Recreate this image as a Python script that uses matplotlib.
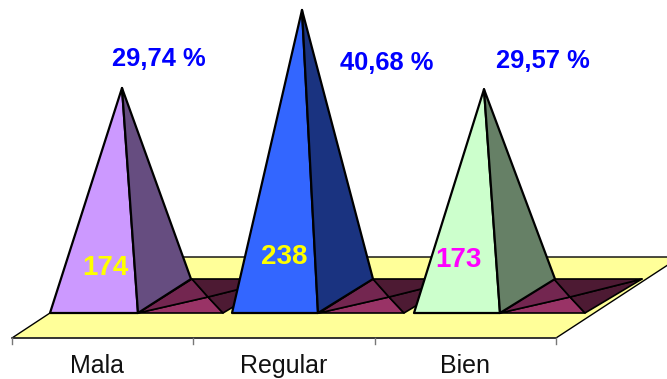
import matplotlib
matplotlib.use('Agg')
import matplotlib.pyplot as plt
from matplotlib.patches import Polygon

plt.rcParams['font.family'] = ['Liberation Sans', 'DejaVu Sans']

# data
categories = ['Mala', 'Regular', 'Bien']
counts = [174, 238, 173]
percents = ['29,74 %', '40,68 %', '29,57 %']

left_colors = ['#cc99ff', '#3366ff', '#ccffcc']
right_colors = ['#664d80', '#1a3380', '#668066']
count_colors = ['#ffff00', '#ffff00', '#ff00ff']

W, H = 667, 379
fig = plt.figure(figsize=(W / 100, H / 100), dpi=100)
ax = fig.add_axes([0, 0, 1, 1])
ax.set_xlim(0, W)
ax.set_ylim(H, 0)  # pixel coords, y goes down
ax.axis('off')

base_y = 313
back_y = 279
px_per_unit = 1.219
height_offset = 12.9  # value axis doesn't start right at the floor
step = 182
base_w = 86


def poly(pts, face, lw=1.0, z=1):
    ax.add_patch(Polygon(pts, closed=True, facecolor=face, edgecolor='black',
                         linewidth=lw, joinstyle='round', zorder=z))


# floor
poly([(12, 338), (556, 338), (680, 257), (135, 257)], '#ffff99', lw=1.0, z=1)

# axis line and ticks
ax.plot([12, 556], [338, 338], color='#333333', lw=1.1, zorder=2)
for i in range(4):
    xt = 12 + i * 181.3
    ax.plot([xt, xt], [338, 344], color='#777777', lw=1.0, zorder=2)

label_x = [97.5, 284, 465]
for i, name in enumerate(categories):
    ax.text(label_x[i], 373, name, ha='center', va='baseline',
            fontsize=18, color='#111111', zorder=6)

# maroon shadows on the floor
for i in range(3):
    x0 = 138 + i * 181
    a, b, c, d = (x0, base_y), (x0 + 85, base_y), (x0 + 142, back_y), (x0 + 54, back_y)
    m = (x0 + 70, 297)
    poly([a, b, m], '#993366', lw=1.2, z=3)
    poly([a, m, d], '#732650', lw=1.2, z=3)
    poly([b, c, m], '#4d1a33', lw=1.2, z=3)
    poly([c, d, m], '#4d1a33', lw=1.2, z=3)

# pyramids
apex_off = [72, 70, 70]
for i, val in enumerate(counts):
    x0 = 50 + i * step
    apex = (x0 + apex_off[i], base_y - (height_offset + val * px_per_unit))
    fl, fr, br = (x0, base_y), (x0 + base_w + (2 if i == 0 else 0), base_y), (x0 + 141, back_y)
    poly([fl, fr, apex], left_colors[i], lw=1.6, z=4)
    poly([fr, br, apex], right_colors[i], lw=1.6, z=4)

pct_x = [159, 387, 543]
pct_y = [59, 63, 61]
count_x = [105, 284, 458]
count_y = [268, 257, 260]
for i in range(3):
    ax.text(pct_x[i], pct_y[i], percents[i], ha='center', va='center',
            fontsize=18.4, fontweight='bold', color='#0000ff', zorder=6)
    ax.text(count_x[i], count_y[i], str(counts[i]), ha='center', va='center',
            fontsize=20, fontweight='bold', color=count_colors[i], zorder=6)

fig.savefig('out.png', dpi=100)
